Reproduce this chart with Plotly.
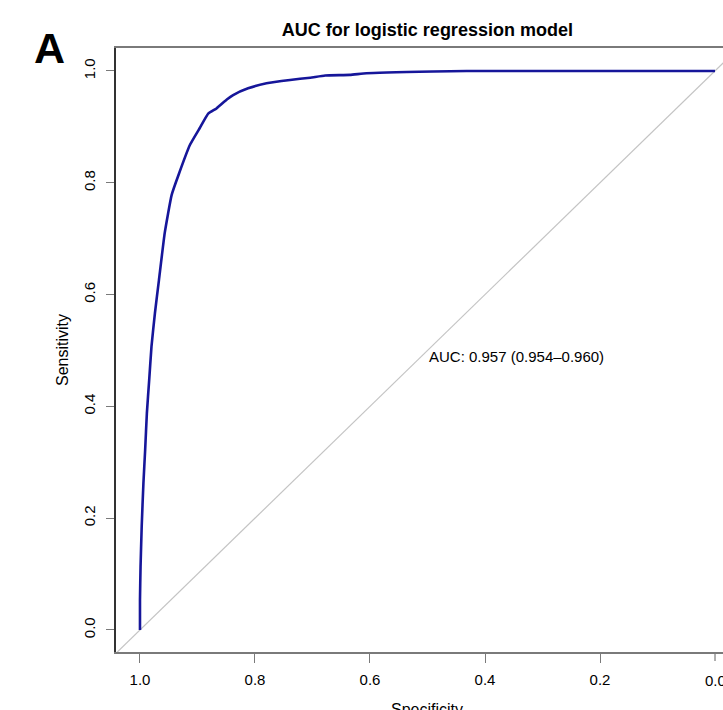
import plotly.graph_objects as go

# ROC curve
specificity = [1.000, 1.000, 0.999, 0.997, 0.994, 0.991, 0.988, 0.984, 0.980, 0.974,
               0.967, 0.957, 0.945, 0.933, 0.913, 0.896, 0.881, 0.867, 0.849, 0.838,
               0.812, 0.780, 0.739, 0.704, 0.678, 0.635, 0.606, 0.490, 0.432, 0.000]
sensitivity = [0.000, 0.054, 0.113, 0.185, 0.263, 0.322, 0.388, 0.447, 0.507, 0.567,
               0.626, 0.710, 0.778, 0.814, 0.868, 0.898, 0.924, 0.933, 0.949, 0.957,
               0.969, 0.978, 0.984, 0.988, 0.992, 0.993, 0.996, 0.999, 1.000, 1.000]

# reference diagonal (sensitivity = 1 - specificity)
diag_spec = [1.2, -0.2]
diag_sens = [-0.2, 1.2]

tick_vals = [1.0, 0.8, 0.6, 0.4, 0.2, 0.0]
tick_text = ["1.0", "0.8", "0.6", "0.4", "0.2", "0.0"]

title_text = "AUC for logistic regression model"
auc_label = "AUC: 0.957 (0.954–0.960)"
x_title = "Specificity"
y_title = "Sensitivity"

FONT = "Liberation Sans, Arial, Helvetica, sans-serif"

fig = go.Figure()
fig.add_trace(go.Scatter(x=diag_spec, y=diag_sens, mode="lines",
                         line=dict(color="#c4c4c4", width=1.2), hoverinfo="skip"))
fig.add_trace(go.Scatter(x=specificity, y=sensitivity, mode="lines",
                         line=dict(color="#16169a", width=2.6, shape="spline", smoothing=0.4)))

fig.add_annotation(x=0.5, y=0.508, xref="x", yref="y", text=auc_label, showarrow=False,
                   xanchor="left", yanchor="top", font=dict(family=FONT, size=15, color="#000"))
fig.add_annotation(x=-0.109, y=1.0, xref="paper", yref="paper", text="<b>A</b>", showarrow=False,
                   xanchor="center", yanchor="middle", font=dict(family=FONT, size=43, color="#000"))
fig.add_annotation(x=-0.104, y=-0.123, xref="paper", yref="paper", text="<b>B</b>", showarrow=False,
                   xanchor="center", yanchor="middle", font=dict(family=FONT, size=43, color="#000"))
# last x tick label sits on the right edge, partly cut as in the reference
fig.add_annotation(x=tick_vals[-1], y=-0.0464, xref="x", yref="paper", text=tick_text[-1],
                   showarrow=False, xanchor="center", yanchor="middle",
                   font=dict(family=FONT, size=15, color="#000"))
# x-axis title, partly cut by the bottom edge as in the reference
fig.add_annotation(x=0.513, y=-0.0775, xref="paper", yref="paper", text=x_title,
                   showarrow=False, xanchor="center", yanchor="top",
                   font=dict(family=FONT, size=16, color="#000"))

fig.update_layout(
    width=723, height=710,
    margin=dict(l=116, r=0, t=48, b=58),
    paper_bgcolor="white", plot_bgcolor="white",
    showlegend=False,
    font=dict(family=FONT, color="#000"),
    title=dict(text="<b>" + title_text + "</b>", x=0.513, xref="paper", xanchor="center",
               y=1 - 30 / 710, yref="container", yanchor="middle",
               font=dict(family=FONT, size=18, color="#000")),
    xaxis=dict(range=[1.0417, -0.0139], tickvals=tick_vals[:-1], ticktext=tick_text[:-1],
               automargin=False,
               showgrid=False, zeroline=False, showline=True, linecolor="#7a7a7a", linewidth=1.5,
               mirror=True, ticks="outside", ticklen=9, tickcolor="#7a7a7a", tickwidth=1.2,
               ticklabelstandoff=4,
               tickfont=dict(family=FONT, size=15, color="#000")),
    yaxis=dict(range=[-0.0394, 1.0411], tickvals=tick_vals, ticktext=tick_text,
               automargin=False,
               showgrid=False, zeroline=False, showline=True, linecolor="#333333", linewidth=1.5,
               ticks="outside", ticklen=8, tickcolor="#7a7a7a", tickwidth=1.2, tickangle=-90,
               ticklabelstandoff=5,
               tickfont=dict(family=FONT, size=15, color="#000"),
               title=dict(text=y_title, font=dict(family=FONT, size=16, color="#000"), standoff=9)),
)

# x tick at 0.0 (its label is added as annotation above)
fig.add_shape(type="line", xref="x", yref="paper", x0=tick_vals[-1], x1=tick_vals[-1],
              y0=0, y1=-9 / 604, line=dict(color="#7a7a7a", width=1.2))

fig.write_html("out.html", config={"displayModeBar": False},
               post_script="document.body.style.margin='0';document.body.style.overflow='hidden';")
